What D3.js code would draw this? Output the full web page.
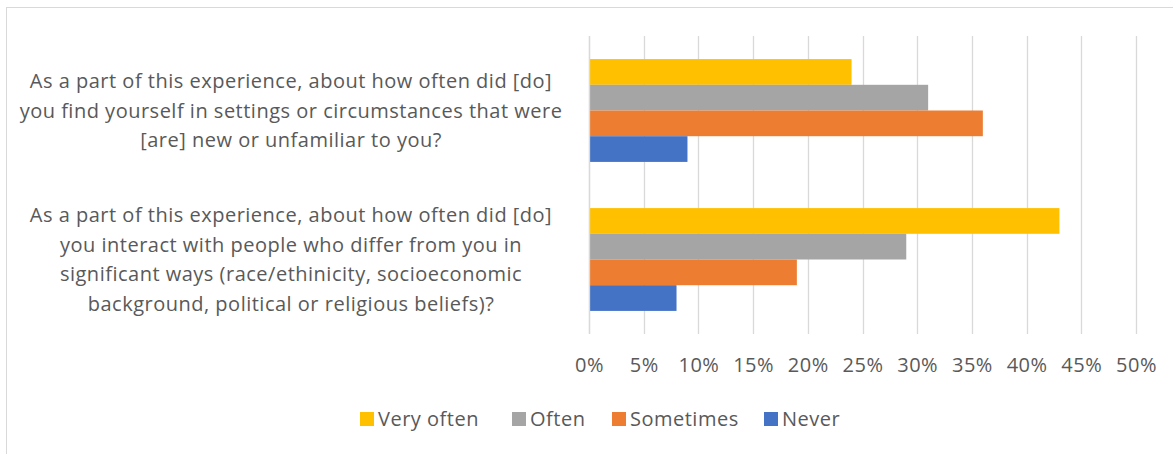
<!DOCTYPE html>
<html><head><meta charset="utf-8">
<script src="https://cdn.jsdelivr.net/npm/d3@7"></script>
<style>
html,body{margin:0;padding:0;background:#fff;}
svg text{font-family:"Open Sans",Lato,sans-serif;fill:#595959;letter-spacing:0.5px;}
</style></head>
<body><svg id="c" width="1173" height="454"></svg>
<script>
const categories = [
  ["As a part of this experience, about how often did [do]",
   "you find yourself in settings or circumstances that were",
   "[are] new or unfamiliar to you?"],
  ["As a part of this experience, about how often did [do]",
   "you interact with people who differ from you in",
   "significant ways (race/ethinicity, socioeconomic",
   "background, political or religious beliefs)?"]
];
const seriesNames = ["Very often","Often","Sometimes","Never"];
const seriesColors = ["#FFC000","#A5A5A5","#ED7D31","#4472C4"];
const veryOften = [24, 43];
const often = [31, 29];
const sometimes = [36, 19];
const never = [9, 8];
const tickValues = [0,5,10,15,20,25,30,35,40,45,50];

const seriesValues = [veryOften, often, sometimes, never];
const svg = d3.select("#c");
const fs = 20;

// chart border
svg.append("rect").attr("x",6.5).attr("y",7.5).attr("width",1180).attr("height",460)
  .attr("fill","none").attr("stroke","#d9d9d9").attr("stroke-width",1);

const x = d3.scaleLinear().domain([0,50]).range([589,1136]);
const y = d3.scaleBand().domain(d3.range(categories.length)).range([36,334])
  .paddingInner(0.31).paddingOuter(0.155);
const ys = d3.scaleBand().domain(d3.range(seriesNames.length)).range([0,y.bandwidth()]);

// gridlines
svg.append("g").selectAll("line").data(tickValues).join("line")
  .attr("x1",d=>Math.round(x(d))+0.5).attr("x2",d=>Math.round(x(d))+0.5)
  .attr("y1",36).attr("y2",334).attr("stroke","#d9d9d9").attr("stroke-width",1.3);

// bars
categories.forEach((c,ci)=>{
  seriesValues.forEach((vals,si)=>{
    svg.append("rect")
      .attr("x",x(0)+1).attr("y",y(ci)+ys(si))
      .attr("width",x(vals[ci])-x(0)-1).attr("height",ys.bandwidth())
      .attr("fill",seriesColors[si]);
  });
});

// category axis line
svg.append("line").attr("x1",589.5).attr("x2",589.5).attr("y1",36).attr("y2",334)
  .attr("stroke","#d9d9d9").attr("stroke-width",1.3);

// category labels
const lh = 29.5;
categories.forEach((lines,ci)=>{
  const cy = y(ci)+y.bandwidth()/2;
  const t = svg.append("text").attr("text-anchor","middle").attr("font-size",fs);
  lines.forEach((ln,li)=>{
    t.append("tspan").attr("x",291)
      .attr("y",cy + (li-(lines.length-1)/2)*lh + fs*0.36).text(ln);
  });
});

// x tick labels
const xa = d3.axisBottom(x).tickValues(tickValues).tickFormat(d=>d+"%").tickSize(0).tickPadding(0);
const gx = svg.append("g").attr("transform","translate(0,372)").call(xa);
gx.select(".domain").remove();
gx.selectAll("text").attr("font-size",fs).attr("dy",0).attr("fill","#595959")
  .style("font-family","'Open Sans',Lato,sans-serif");

// legend
const legendX = [360, 512, 612, 764];
const lg = svg.append("g").attr("transform","translate(0,426)");
seriesNames.forEach((n,i)=>{
  const g = lg.append("g").attr("transform",`translate(${legendX[i]},0)`);
  g.append("rect").attr("x",0).attr("y",-14).attr("width",14).attr("height",14).attr("fill",seriesColors[i]);
  g.append("text").attr("x",18).attr("y",0).attr("font-size",fs).text(n);
});
</script></body></html>
